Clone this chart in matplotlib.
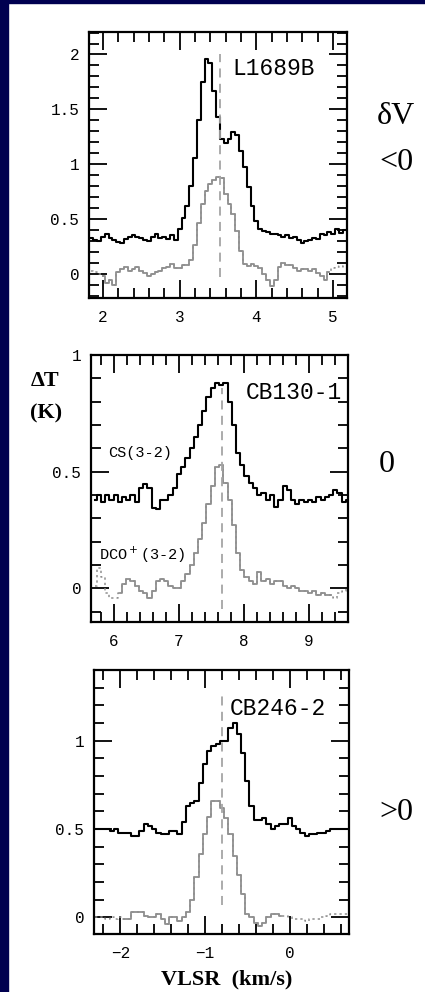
import matplotlib
matplotlib.use("Agg")
import matplotlib.pyplot as plt
import matplotlib.patches as patches
from matplotlib.ticker import MultipleLocator
import numpy as np

# ---- L1689B (top) ----
l1689_v0, l1689_dv = 1.85, 0.05
l1689_cs = [0.33, 0.31, 0.30, 0.34, 0.36, 0.33, 0.31, 0.29, 0.28, 0.32,
            0.34, 0.35, 0.34, 0.33, 0.31, 0.30, 0.34, 0.36, 0.33, 0.34,
            0.32, 0.35, 0.31, 0.41, 0.51, 0.62, 0.80, 1.06, 1.40, 1.75,
            1.96, 1.92, 1.67, 1.43, 1.23, 1.19, 1.23, 1.29, 1.27, 1.12,
            0.97, 0.79, 0.62, 0.48, 0.41, 0.39, 0.38, 0.36, 0.36, 0.35,
            0.34, 0.35, 0.33, 0.34, 0.31, 0.28, 0.30, 0.31, 0.33, 0.32,
            0.36, 0.35, 0.38, 0.36, 0.41, 0.37, 0.40]
l1689_dco = [0.03, 0.02, 0.00, -0.02, -0.08, -0.06, -0.10, 0.02, 0.04, 0.06,
             0.03, 0.04, 0.06, 0.03, 0.01, -0.02, 0.00, 0.02, 0.03, 0.05,
             0.06, 0.09, 0.05, 0.05, 0.08, 0.08, 0.13, 0.26, 0.46, 0.64,
             0.76, 0.82, 0.86, 0.88, 0.87, 0.73, 0.64, 0.55, 0.39, 0.21,
             0.09, 0.07, 0.09, 0.07, 0.05, 0.00, -0.06, -0.11, -0.06, 0.06,
             0.10, 0.08, 0.08, 0.05, 0.03, 0.04, 0.04, 0.03, 0.04, 0.01,
             -0.02, -0.06, 0.02, 0.05, 0.06, 0.07, 0.06]

# ---- CB130-1 (middle) ----
cb130_v0, cb130_dv = 5.70, 0.065
cb130_cs = [0.38, 0.40, 0.37, 0.40, 0.38, 0.40, 0.37, 0.39, 0.38, 0.40,
            0.37, 0.43, 0.445, 0.43, 0.345, 0.34, 0.38, 0.38, 0.40, 0.43,
            0.49, 0.52, 0.56, 0.60, 0.65, 0.70, 0.76, 0.82, 0.86, 0.88,
            0.87, 0.88, 0.80, 0.70, 0.58, 0.53, 0.48, 0.45, 0.43, 0.40,
            0.41, 0.38, 0.40, 0.35, 0.38, 0.44, 0.42, 0.38, 0.36, 0.38,
            0.37, 0.38, 0.37, 0.39, 0.38, 0.39, 0.40, 0.42, 0.41, 0.37,
            0.38]
cb130_dco = [0.01, 0.085, 0.05, -0.02, -0.04, -0.04, -0.02, 0.02, 0.04, 0.03,
             0.01, -0.01, -0.02, -0.04, -0.01, 0.03, 0.04, 0.03, 0.01, 0.00,
             0.00, 0.03, 0.06, 0.10, 0.15, 0.21, 0.28, 0.36, 0.44, 0.52,
             0.53, 0.45, 0.38, 0.27, 0.15, 0.08, 0.05, 0.03, 0.02, 0.07,
             0.03, 0.04, 0.02, 0.03, 0.03, 0.01, 0.00, 0.01, 0.00, -0.01,
             -0.01, -0.02, -0.01, -0.03, -0.02, -0.03, -0.03, -0.04, -0.02, -0.01,
             0.00]

# ---- CB246-2 (bottom) ----
cb246_v0, cb246_dv = -2.30, 0.05
cb246_cs = [0.50, 0.50, 0.50, 0.50, 0.49, 0.50, 0.48, 0.48, 0.48, 0.46,
            0.46, 0.49, 0.53, 0.52, 0.50, 0.48, 0.47, 0.47, 0.49, 0.49,
            0.47, 0.54, 0.63, 0.65, 0.66, 0.76, 0.87, 0.94, 0.97, 0.98,
            1.00, 1.00, 1.07, 1.10, 1.04, 0.93, 0.77, 0.63, 0.55, 0.55,
            0.56, 0.53, 0.50, 0.52, 0.53, 0.53, 0.56, 0.52, 0.50, 0.48,
            0.46, 0.47, 0.47, 0.48, 0.48, 0.49, 0.50, 0.50, 0.50, 0.50,
            0.50]
cb246_dco = [0.00, 0.00, 0.00, -0.01, 0.00, -0.01, 0.00, -0.01, -0.01, 0.03,
             0.03, 0.03, 0.01, 0.00, 0.00, 0.02, -0.01, -0.04, 0.00, 0.00,
             -0.02, 0.00, 0.03, 0.10, 0.23, 0.36, 0.47, 0.57, 0.66, 0.66,
             0.62, 0.56, 0.47, 0.35, 0.24, 0.13, 0.02, 0.00, -0.03, -0.05,
             -0.03, 0.00, 0.02, 0.02, 0.01, 0.01, 0.00, -0.01, -0.01, -0.01,
             -0.02, -0.01, -0.01, -0.01, 0.00, 0.01, 0.02, 0.02, 0.02, 0.02,
             0.02]

names = ["L1689B", "CB130-1", "CB246-2"]
v_sys = [3.52, 7.66, -0.80]
dash_span = [(-0.03, 2.0), (-0.09, 0.86), (0.07, 1.27)]
solid_range = [(1.98, 4.96), (6.05, 9.38), (-1.98, -0.05)]

xticks = [[2, 3, 4, 5], [6, 7, 8, 9], [-2, -1, 0]]
xticklabels = [["2", "3", "4", "5"], ["6", "7", "8", "9"], ["\u22122", "\u22121", "0"]]
yticks = [[0, 0.5, 1, 1.5, 2], [0, 0.5, 1], [0, 0.5, 1]]
yticklabels = [["0", "0.5", "1", "1.5", "2"], ["0", "0.5", "1"], ["0", "0.5", "1"]]

W, H = 425, 992
navy = "#000050"
grey = "#8f8f8f"

fig = plt.figure(figsize=(W / 100, H / 100), dpi=100)
fig.patch.set_facecolor("white")
fig.add_artist(patches.Rectangle((0, 0), 7.5 / W, 1, transform=fig.transFigure,
                                 color=navy, zorder=0))
fig.add_artist(patches.Rectangle((0, 1 - 3 / H), 1, 3 / H, transform=fig.transFigure,
                                 color=navy, zorder=0))

# axes boxes in pixels: left, right, top, bottom
boxes = [(89, 347, 32, 298), (91, 348, 355, 622), (94, 349, 670, 934)]
xlims = [(1.82, 5.18), (5.646, 9.60), (-2.31, 0.70)]
ylims = [(-0.22, 2.205), (-0.145, 1.0), (-0.094, 1.40)]
name_pos = [(0.717, 0.862), (0.79, 0.861), (0.72, 0.856)]
spectra = [(l1689_v0, l1689_dv, l1689_cs, l1689_dco),
           (cb130_v0, cb130_dv, cb130_cs, cb130_dco),
           (cb246_v0, cb246_dv, cb246_cs, cb246_dco)]

mono = "Liberation Mono"
serif = "Liberation Serif"

axes = []
for k in range(3):
    l, r, t, b = boxes[k]
    ax = fig.add_axes([l / W, 1 - b / H, (r - l) / W, (b - t) / H])
    axes.append(ax)
    v0, dv, cs, dco = spectra[k]
    v_cs = v0 + dv * np.arange(len(cs))
    v_dco = v0 + dv * np.arange(len(dco))
    dco = np.array(dco)

    # gray line: dotted at the noisy edges, solid in the middle
    lo, hi = solid_range[k]
    inner = (v_dco >= lo) & (v_dco <= hi)
    ax.step(v_dco, dco, where="mid", color=grey, lw=1.1, ls=(0, (1.5, 2)))
    ax.step(v_dco[inner], dco[inner], where="mid", color=grey, lw=1.3)
    ax.step(v_cs, cs, where="mid", color="black", lw=1.5)

    ax.vlines(v_sys[k], dash_span[k][0], dash_span[k][1], colors="#a5a5a5",
              linestyles=(0, (5, 3.5)), lw=1.3)

    ax.set_xlim(*xlims[k])
    ax.set_ylim(*ylims[k])
    ax.set_xticks(xticks[k])
    ax.set_xticklabels(xticklabels[k])
    ax.set_yticks(yticks[k])
    ax.set_yticklabels(yticklabels[k])
    ax.xaxis.set_minor_locator(MultipleLocator(0.2))
    ax.yaxis.set_minor_locator(MultipleLocator(0.1))
    ax.tick_params(which="both", direction="in", top=True, right=True,
                   width=1.3, color="black")
    ax.tick_params(which="major", length=13)
    ax.tick_params(which="minor", length=7)
    ax.tick_params(axis="x", pad=9)
    ax.tick_params(axis="y", pad=7)
    for lab in ax.get_xticklabels() + ax.get_yticklabels():
        lab.set_fontfamily(mono)
        lab.set_fontsize(11.5)
    for s in ax.spines.values():
        s.set_linewidth(1.6)

    ax.text(name_pos[k][0], name_pos[k][1], names[k], transform=ax.transAxes,
            ha="center", va="center", fontsize=16.5, family=mono)

axes[1].text(0.19, 0.633, "CS(3-2)", transform=axes[1].transAxes, ha="center",
             va="center", fontsize=11, family=mono)
axes[1].text(0.2, 0.251, "DCO$^+$(3-2)", transform=axes[1].transAxes, ha="center",
             va="center", fontsize=11, family=mono)

# right-hand labels (sign of the velocity shift)
fig.text(396 / W, 1 - 117 / H, "\u03b4V", ha="center", va="center",
         fontsize=23, family=serif)
fig.text(396 / W, 1 - 163 / H, "<0", ha="center", va="center",
         fontsize=23, family=serif)
fig.text(387 / W, 1 - 465 / H, "0", ha="center", va="center",
         fontsize=23, family=serif)
fig.text(396 / W, 1 - 812 / H, ">0", ha="center", va="center",
         fontsize=23, family=serif)

# axis titles
fig.text(45 / W, 1 - 381 / H, "\u0394T", ha="center", va="center",
         fontsize=16, family=serif, fontweight="bold")
fig.text(46 / W, 1 - 413 / H, "(K)", ha="center", va="center",
         fontsize=16, family=serif, fontweight="bold")
fig.text(227 / W, 1 - 979 / H, "VLSR  (km/s)", ha="center", va="center",
         fontsize=16, family=serif, fontweight="bold")

fig.savefig("out.png", dpi=100, facecolor=fig.get_facecolor())
